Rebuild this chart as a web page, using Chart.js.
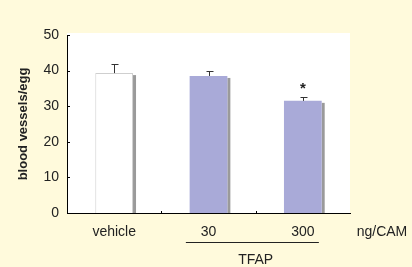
<!DOCTYPE html>
<html>
<head>
<meta charset="utf-8">
<script src="https://cdn.jsdelivr.net/npm/chart.js@4"></script>
<style>
    body { margin: 0; background: #fffadc; }
</style>
</head>
<body>
<canvas id="vesselChart" width="412" height="267"></canvas>
<script>
const categories = ["vehicle", "30", "300"];
const vessels = [39.3, 38.5, 31.5];
const errors = [2.6, 1.5, 1.1];
const marks = ["", "", "*"];
const yTicks = [0, 50, 5];   // min, max, step

const ink = "#222";
const font = "'Liberation Sans', Arial, sans-serif";

// cream page, white plot, shadows, error bars and the TFAP bracket
const decor = {
    id: "decor",
    beforeDraw(chart) {
        const { ctx, chartArea: a } = chart;
        ctx.save();
        ctx.fillStyle = "#fffadc";
        ctx.fillRect(0, 0, chart.width, chart.height);
        ctx.fillStyle = "#fff";
        ctx.fillRect(a.left, a.top - 2, a.right - a.left, a.bottom - a.top + 2);
        ctx.restore();
    },
    beforeDatasetsDraw(chart) {
        const { ctx } = chart;
        ctx.save();
        ctx.fillStyle = "#9a9a9a";
        chart.getDatasetMeta(0).data.forEach(bar => {
            const right = bar.x + bar.width / 2;
            ctx.fillRect(right, bar.y + 2, 3, bar.base - bar.y - 2);
        });
        ctx.restore();
    },
    afterDatasetsDraw(chart) {
        const { ctx, chartArea: a, scales: { x, y } } = chart;
        ctx.save();
        ctx.strokeStyle = "#333";
        ctx.lineWidth = 1;

        // upper error bars
        chart.getDatasetMeta(0).data.forEach((bar, i) => {
            const top = y.getPixelForValue(vessels[i] + errors[i]);
            const cx = Math.round(bar.x) + 0.5;
            ctx.beginPath();
            ctx.moveTo(cx, bar.y);
            ctx.lineTo(cx, Math.round(top) + 0.5);
            ctx.moveTo(cx - 3, Math.round(top) + 0.5);
            ctx.lineTo(cx + 4, Math.round(top) + 0.5);
            ctx.stroke();

            if (marks[i]) {
                ctx.fillStyle = ink;
                ctx.font = "bold 15px " + font;
                ctx.textAlign = "center";
                ctx.textBaseline = "middle";
                ctx.fillText(marks[i], bar.x, top - 8);
            }
        });

        // inward y ticks
        ctx.strokeStyle = "#000";
        y.ticks.forEach(t => {
            const py = Math.round(y.getPixelForValue(t.value)) + 0.5;
            ctx.beginPath();
            ctx.moveTo(a.left, py);
            ctx.lineTo(a.left + 3, py);
            ctx.stroke();
        });

        // small x ticks between groups
        const step = x.getPixelForValue(1) - x.getPixelForValue(0);
        for (let i = 0; i < categories.length - 1; i++) {
            const px = Math.round(x.getPixelForValue(i) + step / 2) + 0.5;
            ctx.beginPath();
            ctx.moveTo(px, a.bottom);
            ctx.lineTo(px, a.bottom - 2);
            ctx.stroke();
        }

        // unit label and TFAP bracket
        ctx.fillStyle = ink;
        ctx.font = "14px " + font;
        ctx.textAlign = "center";
        ctx.textBaseline = "middle";
        ctx.fillText("ng/CAM", a.right + 32, a.bottom + 19);

        const x1 = x.getPixelForValue(1) - step * 0.24;
        const x2 = x.getPixelForValue(2) + step * 0.17;
        ctx.strokeStyle = "#222";
        ctx.beginPath();
        ctx.moveTo(x1, a.bottom + 29.5);
        ctx.lineTo(x2, a.bottom + 29.5);
        ctx.stroke();
        ctx.fillText("TFAP", x.getPixelForValue(1) + step / 2, a.bottom + 47);
        ctx.restore();
    }
};

new Chart(document.getElementById("vesselChart"), {
    type: "bar",
    data: {
        labels: categories,
        datasets: [{
            data: vessels,
            backgroundColor: ["#ffffff", "#a9aad8", "#a9aad8"],
            borderColor: ["#cfcfcf", "#a9aad8", "#a9aad8"],
            borderWidth: [1, 0, 0],
            barPercentage: 0.4,
            categoryPercentage: 1
        }]
    },
    options: {
        responsive: false,
        animation: false,
        layout: { padding: { left: 0, right: 62, top: 35, bottom: 0 } },
        plugins: {
            legend: { display: false },
            tooltip: { enabled: false }
        },
        scales: {
            x: {
                grid: { display: false, drawTicks: false },
                border: { display: true, color: "#000", width: 1 },
                ticks: {
                    color: ink,
                    padding: 11,
                    font: { family: font, size: 14 }
                },
                afterFit(scale) { scale.height = 54; }
            },
            y: {
                min: yTicks[0],
                max: yTicks[1],
                grid: { display: false, drawTicks: false },
                border: { display: true, color: "#000", width: 1 },
                ticks: {
                    stepSize: yTicks[2],
                    color: ink,
                    padding: 8,
                    font: { family: font, size: 14 },
                    callback: v => v % 10 === 0 ? v : ""
                },
                title: {
                    display: true,
                    text: "blood vessels/egg",
                    color: ink,
                    font: { family: font, size: 13, weight: "bold" },
                    padding: { top: 16, bottom: 0 }
                },
                afterFit(scale) { scale.width = 67; }
            }
        }
    },
    plugins: [decor]
});
</script>
</body>
</html>
